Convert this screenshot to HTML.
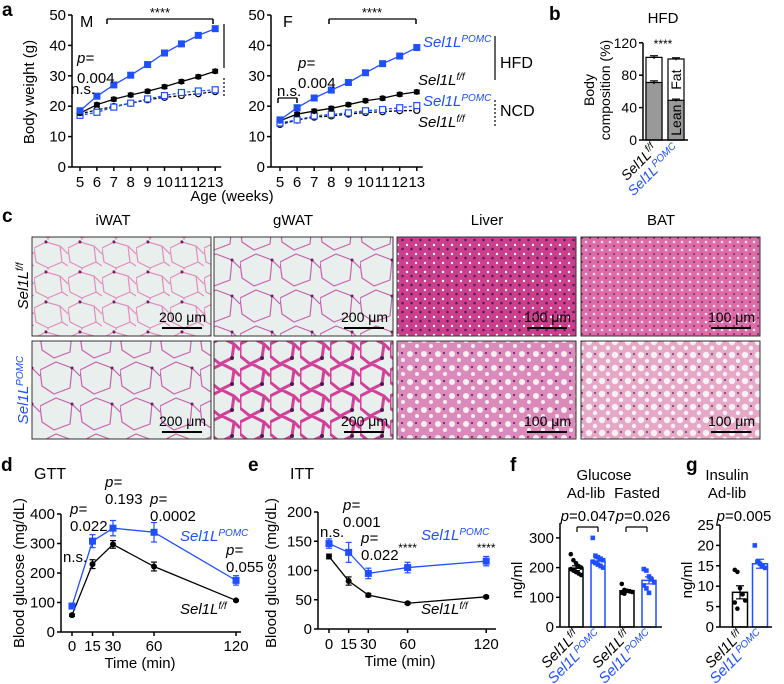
<!DOCTYPE html>
<html><head><meta charset="utf-8"><style>
html,body{margin:0;padding:0;background:#fff;}
svg{display:block;font-family:"Liberation Sans",sans-serif;}
</style></head><body>
<svg id="fig" width="784" height="684" viewBox="0 0 784 684" xmlns="http://www.w3.org/2000/svg">
<defs>
<pattern id="fatA" width="34" height="30" patternUnits="userSpaceOnUse"><rect width="34" height="30" fill="#e9efec"/><path d="M0 8 L12 2 L26 6 L34 14 M12 2 L10 -2 M26 6 L28 22 L14 28 L2 22 L0 8 M14 28 L14 32 M28 22 L34 26" fill="none" stroke="#e48bc0" stroke-width="1.2"/><circle cx="12" cy="2" r="1.5" fill="#702060"/></pattern>
<pattern id="fatB" width="40" height="36" patternUnits="userSpaceOnUse"><rect width="40" height="36" fill="#e9efec"/><path d="M0 10 L16 2 L32 8 L40 16 M32 8 L30 28 L14 34 L2 26 L0 10" fill="none" stroke="#c860b0" stroke-width="1.2"/><circle cx="32" cy="8" r="1.5" fill="#702060"/></pattern>
<pattern id="fatC" width="30" height="26" patternUnits="userSpaceOnUse"><rect width="30" height="26" fill="#e9efec"/><path d="M0 6 L12 0 L24 6 L30 12 M24 6 L22 20 L10 26 L0 18 L0 6" fill="none" stroke="#d2409a" stroke-width="3"/><circle cx="22" cy="20" r="2" fill="#501a50"/></pattern>
<pattern id="liv1" width="9" height="9" patternUnits="userSpaceOnUse"><rect width="9" height="9" fill="#cc3f8c"/><circle cx="2" cy="2" r="1.2" fill="#fff"/><circle cx="6.5" cy="6" r="1.3" fill="#5a1a5a"/></pattern>
<pattern id="liv2" width="14" height="14" patternUnits="userSpaceOnUse"><rect width="14" height="14" fill="#dc8abb"/><circle cx="4" cy="4" r="3" fill="#f4f0f2"/><circle cx="11" cy="10" r="2" fill="#f4f0f2"/><circle cx="10" cy="3" r="1" fill="#5a1a5a"/></pattern>
<pattern id="bat1" width="8" height="8" patternUnits="userSpaceOnUse"><rect width="8" height="8" fill="#df6aa8"/><circle cx="2" cy="2" r="1.3" fill="#f6e6ef"/><circle cx="6" cy="6" r="0.9" fill="#4a1a4a"/></pattern>
<pattern id="bat2" width="13" height="13" patternUnits="userSpaceOnUse"><rect width="13" height="13" fill="#e7a8c8"/><circle cx="4" cy="4" r="3.2" fill="#f6f2f4"/><circle cx="10" cy="10" r="2.2" fill="#f6f2f4"/><circle cx="10" cy="3" r="0.9" fill="#4a1a4a"/></pattern>
</defs>
<g font-weight="bold" font-size="19" fill="#000">
<text x="2" y="16">a</text>
<text x="549" y="20">b</text>
<text x="2" y="222">c</text>
<text x="1" y="471">d</text>
<text x="248" y="471">e</text>
<text x="510" y="471">f</text>
<text x="686" y="471">g</text>
</g>
<g id="pa" font-size="15"></g>
<g id="pb" font-size="14"></g>
<g id="pc" font-size="14">
<text x="113" y="225" text-anchor="middle" font-size="15">iWAT</text>
<text x="293" y="225" text-anchor="middle" font-size="15">gWAT</text>
<text x="487" y="225" text-anchor="middle" font-size="15">Liver</text>
<text x="661" y="225" text-anchor="middle" font-size="15">BAT</text>
<text transform="translate(28,286) rotate(-90)" text-anchor="middle" font-style="italic" font-size="15">Sel1L<tspan font-size="10" dy="-5">f/f</tspan></text>
<text transform="translate(28,390) rotate(-90)" text-anchor="middle" font-style="italic" font-size="15" fill="#1f4fff">Sel1L<tspan font-size="10" dy="-5">POMC</tspan></text>
<rect x="32" y="237" width="179" height="99" fill="url(#fatA)" stroke="#333"/>
<rect x="214" y="237" width="179" height="99" fill="url(#fatB)" stroke="#333"/>
<rect x="397" y="237" width="179" height="99" fill="url(#liv1)" stroke="#333"/>
<rect x="581" y="237" width="179" height="99" fill="url(#bat1)" stroke="#333"/>
<rect x="32" y="341" width="179" height="98" fill="url(#fatB)" stroke="#333"/>
<rect x="214" y="341" width="179" height="98" fill="url(#fatC)" stroke="#333"/>
<rect x="397" y="341" width="179" height="98" fill="url(#liv2)" stroke="#333"/>
<rect x="581" y="341" width="179" height="98" fill="url(#bat2)" stroke="#333"/>
</g>
<g id="pd" font-size="15"></g>
<g id="pe" font-size="15"></g>
<g id="pf" font-size="15"></g>
<g id="pg" font-size="15"></g>
</svg>
<script>
// ---- data ----
const ageWeeks=[5,6,7,8,9,10,11,12,13];
const mHfdPomc=[18.5,23.3,27,30.2,33.7,37.5,40.5,43.3,45.5];
const mHfdFlox=[17.7,20.5,22.3,23.7,24.9,26.4,28.1,29.7,31.5];
const mNcdPomc=[17,18,19.7,21,22.4,23.5,24.5,25,25.4];
const mNcdFlox=[17.5,18.8,19.9,21,22.1,22.9,23.5,24.1,24.8];
const fHfdPomc=[15.5,19.5,22.7,25.3,27.8,31,34,36.5,39.3];
const fHfdFlox=[15.2,17.4,18.4,19.3,20.5,21.8,22.6,23.9,24.7];
const fNcdPomc=[14.5,15.5,16.8,17.3,17.8,18.5,18.9,19.5,20.2];
const fNcdFlox=[14,15.4,16.4,16.8,17.4,17.9,18.2,18.5,18.6];
const weightTicks=[0,10,20,30,40,50];
const bcGroups=['flox','pomc'];
const bcLean=[71,49];
const bcTotal=[102,100];
const bcErr=[2,1.5];
const bcTicks=[0,40,80,120];
const timeMin=[0,15,30,60,120];
const gttPomc=[88,308,352,338,175];
const gttPomcErr=[8,22,26,33,16];
const gttFlox=[57,230,297,222,107];
const gttFloxErr=[4,15,13,15,3];
const gttTicks=[0,100,200,300,400];
const ittPomc=[146,131,95,105,116];
const ittPomcErr=[8,17,9,9,8];
const ittFlox=[124,82,58,44,55];
const ittFloxErr=[4,7,3,2,2];
const ittTicks=[0,50,100,150,200];
const gluMeans=[198,222,122,157];
const gluErr=[8,10,4,12];
const gluAdlibFlox=[245,225,215,205,200,195,190,185,180,175];
const gluAdlibPomc=[300,240,235,230,225,220,215,210,205,200];
const gluFastFlox=[145,125,122,120,118,115,112];
const gluFastPomc=[195,190,170,160,150,140,130,115];
const gluTicks=[0,100,200,300];
const insMeans=[8.5,15.5];
const insErr=[1.6,1.1];
const insFlox=[14,13.5,9.5,8,6.5,6,4.5];
const insPomc=[20,16,15.5,15,14.5];
const insTicks=[0,5,10,15,20,25];

const NS='http://www.w3.org/2000/svg';
const BLUE='#1f4fff';
function mk(parent,tag,attrs,name){
  const el=document.createElementNS(NS,tag);
  for(const k in attrs) el.setAttribute(k,attrs[k]);
  
  
  parent.appendChild(el);return el;
}
function txt(parent,x,y,s,name,extra){
  const t=mk(parent,'text',Object.assign({x:x,y:y},extra||{}),name);
  t.textContent=s;return t;
}
function sel(parent,x,y,sup,name,color,anchor){
  const t=mk(parent,'text',{x:x,y:y,'font-style':'italic',fill:color,'text-anchor':anchor||'start'},name);
  t.appendChild(document.createTextNode('Sel1L'));
  const ts=document.createElementNS(NS,'tspan');ts.setAttribute('font-size','10');ts.setAttribute('dy','-5');ts.textContent=sup;t.appendChild(ts);
  return t;
}
function selRot(parent,x,y,sup,name,color){
  const t=mk(parent,'text',{transform:'translate('+x+','+y+') rotate(-45)','font-style':'italic',fill:color,'text-anchor':'end'},name);
  t.appendChild(document.createTextNode('Sel1L'));
  const ts=document.createElementNS(NS,'tspan');ts.setAttribute('font-size','10');ts.setAttribute('dy','-5');ts.textContent=sup;t.appendChild(ts);
}
function line(p,x1,y1,x2,y2,name,extra){return mk(p,'line',Object.assign({x1:x1,y1:y1,x2:x2,y2:y2,stroke:'#000','stroke-width':1.5},extra||{}),name);}
function yAxis(p,x,yScale,ticks,y0,y1,prefix){
  line(p,x,yScale(y1),x,yScale(y0),prefix+'-y-axis');
  ticks.forEach(v=>{line(p,x-4,yScale(v),x,yScale(v),prefix+'-y-tick');txt(p,x-6,yScale(v)+5,String(v),prefix+'-y-tick-label',{'text-anchor':'end'});});
}
function ylabel(p,x,y,s,name){txt(p,0,0,s,name,{transform:'translate('+x+','+y+') rotate(-90)','text-anchor':'middle'});}
function series(p,xs,ys,errs,xS,yS,color,marker,dashed,name){
  let d='';xs.forEach((x,i)=>{d+=(i?'L':'M')+xS(x)+' '+yS(ys[i]);});
  mk(p,'path',Object.assign({d:d,fill:'none',stroke:color,'stroke-width':1.3},dashed?{'stroke-dasharray':'3,2'}:{}),name+'-line');
  xs.forEach((x,i)=>{
    const cx=xS(x),cy=yS(ys[i]);
    if(errs){const e=errs[i];line(p,cx,yS(ys[i]+e),cx,yS(ys[i]-e),name+'-errorbar',{stroke:color,'stroke-width':1.2});
      line(p,cx-3,yS(ys[i]+e),cx+3,yS(ys[i]+e),name+'-errorcap',{stroke:color,'stroke-width':1.2});
      line(p,cx-3,yS(ys[i]-e),cx+3,yS(ys[i]-e),name+'-errorcap',{stroke:color,'stroke-width':1.2});}
    if(marker==='sq') mk(p,'rect',{x:cx-3.5,y:cy-3.5,width:7,height:7,fill:color},name+'-point');
    else if(marker==='osq') mk(p,'rect',{x:cx-3,y:cy-3,width:6,height:6,fill:'#fff',stroke:color,'stroke-width':1.2},name+'-point');
    else if(marker==='oc') mk(p,'circle',{cx:cx,cy:cy,r:3,fill:'#fff',stroke:color,'stroke-width':1.2},name+'-point');
    else mk(p,'circle',{cx:cx,cy:cy,r:3,fill:color},name+'-point');
  });
}
// ---- panel a ----
const pa=document.getElementById('pa');
const yA=v=>167-v*3.04;
const xM=w=>80+(w-5)*16.9;
const xF=w=>280+(w-5)*17.1;
[[72,xM,'male',[mHfdPomc,mHfdFlox,mNcdPomc,mNcdFlox]],[271,xF,'female',[fHfdPomc,fHfdFlox,fNcdPomc,fNcdFlox]]].forEach(([ax,xS,nm,dat])=>{
  yAxis(pa,ax,yA,weightTicks,0,50,nm);
  line(pa,ax,167,xS(13)+6,167,nm+'-x-axis');
  ageWeeks.forEach(w=>{line(pa,xS(w),167,xS(w),171,nm+'-x-tick');txt(pa,xS(w),187,String(w),nm+'-x-tick-label',{'text-anchor':'middle'});});
  series(pa,ageWeeks,dat[3],null,xS,yA,'#000','oc',true,nm+'-ncd-flox');
  series(pa,ageWeeks,dat[2],null,xS,yA,BLUE,'osq',true,nm+'-ncd-pomc');
  series(pa,ageWeeks,dat[1],dat[1].map(v=>0.6),xS,yA,'#000','c',false,nm+'-hfd-flox');
  series(pa,ageWeeks,dat[0],dat[0].map(v=>0.8),xS,yA,BLUE,'sq',false,nm+'-hfd-pomc');
});
ylabel(pa,34,92,'Body weight (g)','weight-y-axis-title');
txt(pa,232,201,'Age (weeks)','age-x-axis-title',{'text-anchor':'middle'});
txt(pa,80,27,'M','male-panel-title',{'font-size':16});
txt(pa,283,27,'F','female-panel-title',{'font-size':16});
line(pa,107,19,213,19,'male-sig-bracket',{'stroke-width':1.2});line(pa,107,19,107,24,'male-sig-bracket');line(pa,213,19,213,24,'male-sig-bracket');
txt(pa,160,17,'****','male-sig-stars',{'text-anchor':'middle','font-size':13});
line(pa,329,19,416,19,'female-sig-bracket',{'stroke-width':1.2});line(pa,329,19,329,24,'female-sig-bracket');line(pa,416,19,416,24,'female-sig-bracket');
txt(pa,372,17,'****','female-sig-stars',{'text-anchor':'middle','font-size':13});
txt(pa,77,63,'p=','male-p-label',{'font-style':'italic'});txt(pa,77,83,'0.004','male-p-value');
txt(pa,71,94,'n.s.','male-ns-label');
line(pa,224,24,224,68,'male-hfd-bracket',{'stroke-width':1.2});
line(pa,224,78,224,97,'male-ncd-bracket',{'stroke-width':1.2,'stroke-dasharray':'2,2'});
txt(pa,298,68,'p=','female-p-label',{'font-style':'italic'});txt(pa,298,88,'0.004','female-p-value');
txt(pa,277,96,'n.s.','female-ns-label');
line(pa,278,98,297,98,'female-ns-bracket',{'stroke-width':1.2});line(pa,278,98,278,103,'female-ns-bracket');line(pa,297,98,297,103,'female-ns-bracket');
sel(pa,423,47,'POMC','legend-hfd-pomc',BLUE);
sel(pa,418,85,'f/f','legend-hfd-flox','#000');
sel(pa,423,106,'POMC','legend-ncd-pomc',BLUE);
sel(pa,418,127,'f/f','legend-ncd-flox','#000');
line(pa,495,36,495,80,'legend-hfd-bracket',{'stroke-width':1.2});
line(pa,495,100,495,127,'legend-ncd-bracket',{'stroke-width':1.2,'stroke-dasharray':'2,2'});
txt(pa,500,68,'HFD','legend-hfd-label',{'font-size':16});
txt(pa,500,116,'NCD','legend-ncd-label',{'font-size':16});
// ---- panel b ----
const pb=document.getElementById('pb');
const yB=v=>140-v*0.81;
const xBc=[654,676];
txt(pb,663,23,'HFD','composition-title',{'text-anchor':'middle','font-size':15});
bcGroups.forEach((g,i)=>{
  const x=xBc[i];
  mk(pb,'rect',{x:x-8,y:yB(bcTotal[i]),width:16,height:yB(0)-yB(bcTotal[i]),fill:'#fff',stroke:'#000','stroke-width':1.2},'fat-bar-'+g);
  mk(pb,'rect',{x:x-8,y:yB(bcLean[i]),width:16,height:yB(0)-yB(bcLean[i]),fill:'#999',stroke:'#000','stroke-width':1.2},'lean-bar-'+g);
  [bcTotal[i],bcLean[i]].forEach(v=>{line(pb,x,yB(v+bcErr[i]),x,yB(v-bcErr[i]),'composition-errorbar-'+g,{'stroke-width':1.2});line(pb,x-4,yB(v+bcErr[i]),x+4,yB(v+bcErr[i]),'composition-errorcap-'+g,{'stroke-width':1.2});});
});
yAxis(pb,643,yB,bcTicks,0,120,'composition');
line(pb,643,140,688,140,'composition-x-axis');
txt(pb,663,48,'****','composition-sig-stars',{'text-anchor':'middle','font-size':12});
txt(pb,0,0,'Fat','fat-label',{transform:'translate('+(xBc[1]+5)+','+((yB(bcTotal[1])+yB(bcLean[1]))/2)+') rotate(-90)','text-anchor':'middle'});
txt(pb,0,0,'Lean','lean-label',{transform:'translate('+(xBc[1]+5)+','+((yB(bcLean[1])+yB(0))/2)+') rotate(-90)','text-anchor':'middle'});
ylabel(pb,594,90,'Body','composition-y-axis-title');
ylabel(pb,610,90,'composition (%)','composition-y-axis-title-2');
selRot(pb,xBc[0]+4,150,'f/f','composition-x-label-flox','#000');
selRot(pb,xBc[1]+4,150,'POMC','composition-x-label-pomc',BLUE);
// scale bars
const pc=document.getElementById('pc');
[[32,237,'200 μm'],[214,237,'200 μm'],[397,237,'100 μm'],[581,237,'100 μm'],[32,341,'200 μm'],[214,341,'200 μm'],[397,341,'100 μm'],[581,341,'100 μm']].forEach(([x,y,s])=>{
  txt(pc,x+174,y+85,s,'scale-bar-label',{'text-anchor':'end'});
  line(pc,x+130,y+91,x+170,y+91,'scale-bar',{'stroke-width':2});
});
// ---- panel d ----
const pd=document.getElementById('pd');
const yD=v=>632-v*0.295;
const xD=t=>72+t*1.367;
yAxis(pd,61,yD,gttTicks,0,400,'gtt');
line(pd,61,632,241,632,'gtt-x-axis');
timeMin.forEach(t=>{line(pd,xD(t),632,xD(t),636,'gtt-x-tick');txt(pd,xD(t),651,String(t),'gtt-x-tick-label',{'text-anchor':'middle'});});
series(pd,timeMin,gttFlox,gttFloxErr,xD,yD,'#000','c',false,'gtt-flox');
series(pd,timeMin,gttPomc,gttPomcErr,xD,yD,BLUE,'sq',false,'gtt-pomc');
txt(pd,34,479,'GTT','gtt-title',{'font-size':16});
ylabel(pd,24,573,'Blood glucose (mg/dL)','gtt-y-axis-title');
txt(pd,140,668,'Time (min)','gtt-x-axis-title',{'text-anchor':'middle'});
txt(pd,70,514,'p=','gtt-p15-label',{'font-style':'italic'});txt(pd,70,531,'0.022','gtt-p15-value');
txt(pd,63,562,'n.s.','gtt-ns-label');
txt(pd,105,487,'p=','gtt-p30-label',{'font-style':'italic'});txt(pd,105,504,'0.193','gtt-p30-value');
txt(pd,150,504,'p=','gtt-p60-label',{'font-style':'italic'});txt(pd,150,521,'0.0002','gtt-p60-value');
txt(pd,226,555,'p=','gtt-p120-label',{'font-style':'italic'});txt(pd,226,572,'0.055','gtt-p120-value');
sel(pd,180,541,'POMC','gtt-legend-pomc',BLUE);
sel(pd,180,614,'f/f','gtt-legend-flox','#000');
// ---- panel e ----
const pe=document.getElementById('pe');
const yE=v=>629-v*0.585;
const xE=t=>329+t*1.31;
yAxis(pe,318,yE,ittTicks,0,200,'itt');
line(pe,318,629,496,629,'itt-x-axis');
timeMin.forEach(t=>{line(pe,xE(t),629,xE(t),633,'itt-x-tick');txt(pe,xE(t),649,String(t),'itt-x-tick-label',{'text-anchor':'middle'});});
series(pe,timeMin,ittFlox,ittFloxErr,xE,yE,'#000','c',false,'itt-flox');
series(pe,timeMin,ittPomc,ittPomcErr,xE,yE,BLUE,'sq',false,'itt-pomc');
txt(pe,290,479,'ITT','itt-title',{'font-size':16});
ylabel(pe,276,573,'Blood glucose (mg/dL)','itt-y-axis-title');
txt(pe,400,666,'Time (min)','itt-x-axis-title',{'text-anchor':'middle'});
txt(pe,320,537,'n.s.','itt-ns-label');
txt(pe,343,510,'p=','itt-p15-label',{'font-style':'italic'});txt(pe,343,527,'0.001','itt-p15-value');
txt(pe,361,543,'p=','itt-p30-label',{'font-style':'italic'});txt(pe,361,560,'0.022','itt-p30-value');
txt(pe,xE(60),552,'****','itt-sig-60',{'text-anchor':'middle','font-size':12});
txt(pe,xE(120),552,'****','itt-sig-120',{'text-anchor':'middle','font-size':12});
sel(pe,421,540,'POMC','itt-legend-pomc',BLUE);
sel(pe,421,614,'f/f','itt-legend-flox','#000');
// ---- bars with points ----
function barPts(p,x,mean,err,pts,yS,color,name,w){
  mk(p,'rect',{x:x-w/2,y:yS(mean),width:w,height:yS(0)-yS(mean),fill:'#fff',stroke:color,'stroke-width':1.5},name+'-bar');
  pts.forEach((v,i)=>{const dx=((i%5)-2)*2.6;
    if(color==='#000') mk(p,'circle',{cx:x+dx,cy:yS(v),r:2.3,fill:color},name+'-point');
    else mk(p,'rect',{x:x+dx-2.3,y:yS(v)-2.3,width:4.6,height:4.6,fill:color},name+'-point');});
  line(p,x,yS(mean-err),x,yS(mean+err),name+'-errorbar',{stroke:color,'stroke-width':1.2});
  line(p,x-4,yS(mean+err),x+4,yS(mean+err),name+'-errorcap',{stroke:color,'stroke-width':1.2});
  line(p,x-4,yS(mean-err),x+4,yS(mean-err),name+'-errorcap',{stroke:color,'stroke-width':1.2});
}
const pf=document.getElementById('pf');
const yFg=v=>627-v*0.297;
const xFb=[576,598,627,649];
const gluPts=[gluAdlibFlox,gluAdlibPomc,gluFastFlox,gluFastPomc];
const gluNames=['adlib-flox','adlib-pomc','fasted-flox','fasted-pomc'];
gluMeans.forEach((m,i)=>barPts(pf,xFb[i],m,gluErr[i],gluPts[i],yFg,i%2?BLUE:'#000','glucose-'+gluNames[i],14));
yAxis(pf,560,yFg,gluTicks,0,350,'glucose');
line(pf,560,627,662,627,'glucose-x-axis');
ylabel(pf,522,580,'ng/ml','glucose-y-axis-title');
txt(pf,604,480,'Glucose','glucose-title',{'text-anchor':'middle'});
txt(pf,586,498,'Ad-lib','glucose-adlib-label',{'text-anchor':'middle'});
txt(pf,637,498,'Fasted','glucose-fasted-label',{'text-anchor':'middle'});
[[588,'0.047',577,598],[643,'0.026',626,647]].forEach(([cx,v,a,b])=>{
  const t=txt(pf,cx,521,'','glucose-p-value',{'text-anchor':'middle'});
  const i=document.createElementNS(NS,'tspan');i.setAttribute('font-style','italic');i.textContent='p';t.appendChild(i);t.appendChild(document.createTextNode('='+v));
  line(pf,a,527,b,527,'glucose-sig-bracket',{'stroke-width':1.2});line(pf,a,527,a,532,'glucose-sig-bracket',{'stroke-width':1.2});line(pf,b,527,b,532,'glucose-sig-bracket',{'stroke-width':1.2});
});
xFb.forEach((x,i)=>selRot(pf,x+4,636,i%2?'POMC':'f/f','glucose-x-label-'+gluNames[i],i%2?BLUE:'#000'));
// ---- panel g ----
const pg=document.getElementById('pg');
const yG=v=>627-v*4.08;
const xG=[740,760];
barPts(pg,xG[0],insMeans[0],insErr[0],insFlox,yG,'#000','insulin-flox',15);
barPts(pg,xG[1],insMeans[1],insErr[1],insPomc,yG,BLUE,'insulin-pomc',15);
yAxis(pg,720,yG,insTicks,0,25,'insulin');
line(pg,720,627,772,627,'insulin-x-axis');
ylabel(pg,692,580,'ng/ml','insulin-y-axis-title');
txt(pg,727,480,'Insulin','insulin-title',{'text-anchor':'middle'});
txt(pg,727,498,'Ad-lib','insulin-adlib-label',{'text-anchor':'middle'});
(function(){const t=txt(pg,744,521,'','insulin-p-value',{'text-anchor':'middle'});
const i=document.createElementNS(NS,'tspan');i.setAttribute('font-style','italic');i.textContent='p';t.appendChild(i);t.appendChild(document.createTextNode('=0.005'));})();
selRot(pg,xG[0]+4,636,'f/f','insulin-x-label-flox','#000');
selRot(pg,xG[1]+4,636,'POMC','insulin-x-label-pomc',BLUE);
</script>
</body></html>
